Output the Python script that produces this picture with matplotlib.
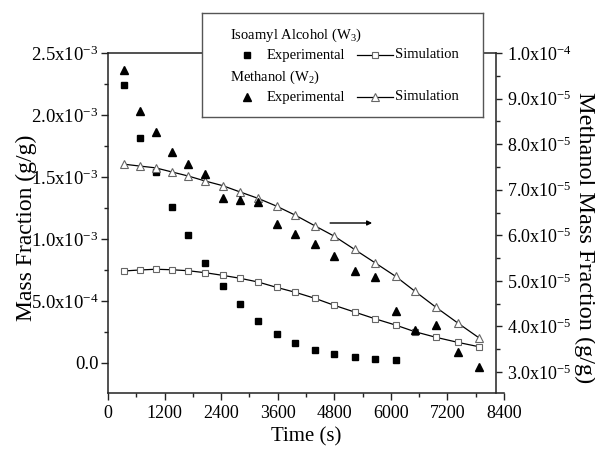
import matplotlib
matplotlib.use("Agg")
import matplotlib.pyplot as plt
from matplotlib.ticker import FixedLocator, FixedFormatter, MultipleLocator
from matplotlib.lines import Line2D

# ---------------- data ----------------
time_s = [340, 670, 1010, 1355, 1705, 2065, 2430, 2805, 3185, 3575,
          3975, 4385, 4800, 5230, 5660, 6100, 6513, 6958, 7414, 7870]

# Isoamyl alcohol (W3), left axis
iso_exp = [2.240e-3, 1.812e-3, 1.540e-3, 1.260e-3, 1.030e-3, 0.806e-3, 0.623e-3,
           0.473e-3, 0.339e-3, 0.236e-3, 0.159e-3, 0.107e-3, 0.073e-3, 0.048e-3,
           0.030e-3, 0.022e-3]
iso_sim = [0.742e-3, 0.750e-3, 0.756e-3, 0.752e-3, 0.744e-3, 0.728e-3, 0.707e-3,
           0.683e-3, 0.653e-3, 0.610e-3, 0.570e-3, 0.522e-3, 0.465e-3, 0.411e-3,
           0.357e-3, 0.306e-3, 0.252e-3, 0.207e-3, 0.167e-3, 0.131e-3]

# Methanol (W2), right axis
met_exp = [9.62e-5, 8.73e-5, 8.27e-5, 7.82e-5, 7.56e-5, 7.34e-5, 6.81e-5, 6.77e-5,
           6.73e-5, 6.25e-5, 6.03e-5, 5.81e-5, 5.55e-5, 5.21e-5, 5.08e-5, 4.34e-5,
           3.92e-5, 4.03e-5, 3.43e-5, 3.12e-5]
met_sim = [7.56e-5, 7.52e-5, 7.48e-5, 7.39e-5, 7.30e-5, 7.19e-5, 7.09e-5, 6.95e-5,
           6.81e-5, 6.64e-5, 6.44e-5, 6.21e-5, 5.98e-5, 5.69e-5, 5.40e-5, 5.10e-5,
           4.77e-5, 4.42e-5, 4.08e-5, 3.75e-5]

x_ticks = [0, 1200, 2400, 3600, 4800, 6000, 7200, 8400]
x_ticklabels = ["0", "1200", "2400", "3600", "4800", "6000", "7200", "8400"]
left_ticks = [0.0, 5.0e-4, 1.0e-3, 1.5e-3, 2.0e-3, 2.5e-3]
left_ticklabels = ["0.0", "5.0x10$^{-4}$", "1.0x10$^{-3}$", "1.5x10$^{-3}$",
                   "2.0x10$^{-3}$", "2.5x10$^{-3}$"]
right_ticks = [3.0e-5, 4.0e-5, 5.0e-5, 6.0e-5, 7.0e-5, 8.0e-5, 9.0e-5, 1.0e-4]
right_ticklabels = ["3.0x10$^{-5}$", "4.0x10$^{-5}$", "5.0x10$^{-5}$", "6.0x10$^{-5}$",
                    "7.0x10$^{-5}$", "8.0x10$^{-5}$", "9.0x10$^{-5}$", "1.0x10$^{-4}$"]

# ---------------- style ----------------
plt.rcParams["font.family"] = ["Liberation Serif", "DejaVu Serif"]
plt.rcParams["mathtext.fontset"] = "custom"
plt.rcParams["mathtext.rm"] = "Liberation Serif"
plt.rcParams["mathtext.it"] = "Liberation Serif:italic"
plt.rcParams["mathtext.bf"] = "Liberation Serif:bold"

W, H = 595, 458
fig = plt.figure(figsize=(W / 100, H / 100), dpi=100)

L, R, T, B = 108, 504, 53, 393
ax = fig.add_axes([L / W, 1 - B / H, (R - L) / W, (B - T) / H])
ax2 = ax.twinx()

spine_col = "#222222"
lw_sp = 1.1

# isoamyl alcohol
ax.plot(time_s, iso_sim, color="black", lw=0.9, marker="s", ms=4.3,
        mfc="white", mec="#666666", mew=0.8, zorder=3)
ax.plot(time_s[:len(iso_exp)], iso_exp, ls="none", marker="s", ms=4.4,
        color="black", zorder=4)
# methanol
ax2.plot(time_s, met_sim, color="black", lw=0.9, marker="^", ms=5.2,
         mfc="white", mec="#666666", mew=0.8, zorder=3)
ax2.plot(time_s, met_exp, ls="none", marker="^", ms=5.2, color="black", zorder=4)

ax.set_xlim(0, 8400)
ax.set_ylim(-2.42e-4, 2.5e-3)
ax2.set_ylim(2.54e-5, 1.0e-4)

right_pos = (496 - L) / (R - L)

ax.xaxis.set_major_locator(FixedLocator(x_ticks))
ax.xaxis.set_major_formatter(FixedFormatter(x_ticklabels))
ax.xaxis.set_minor_locator(MultipleLocator(600))
ax.yaxis.set_major_locator(FixedLocator(left_ticks))
ax.yaxis.set_major_formatter(FixedFormatter(left_ticklabels))
ax.yaxis.set_minor_locator(MultipleLocator(2.5e-4))
ax2.yaxis.set_major_locator(FixedLocator(right_ticks))
ax2.yaxis.set_major_formatter(FixedFormatter(right_ticklabels))
ax2.yaxis.set_minor_locator(MultipleLocator(0.5e-5))

for s in ["left", "bottom", "top"]:
    ax.spines[s].set_linewidth(lw_sp)
    ax.spines[s].set_color(spine_col)
ax.spines["right"].set_visible(False)
ax.spines["top"].set_bounds(0, 8400 * right_pos)
for s in ["left", "bottom", "top"]:
    ax2.spines[s].set_visible(False)
ax2.spines["right"].set_position(("axes", right_pos))
ax2.spines["right"].set_linewidth(lw_sp)
ax2.spines["right"].set_color(spine_col)

ax.tick_params(axis="x", which="major", direction="out", length=5, width=1,
               labelsize=13, pad=4, top=False, colors=spine_col, labelcolor="black")
ax.tick_params(axis="x", which="minor", direction="out", length=3, width=1,
               top=False, colors=spine_col)
ax.tick_params(axis="y", which="major", direction="out", length=5, width=1,
               labelsize=13.5, pad=2, right=False, colors=spine_col, labelcolor="black")
ax.tick_params(axis="y", which="minor", direction="out", length=3, width=1,
               right=False, colors=spine_col)
ax2.tick_params(axis="y", which="major", direction="out", length=4, width=1,
                labelsize=13, pad=4, colors=spine_col, labelcolor="black")
ax2.tick_params(axis="y", which="minor", direction="out", length=3, width=1,
                colors=spine_col)

# axis labels
fig.text(26 / W, 1 - 228 / H, "Mass Fraction (g/g)", rotation=90, fontsize=17,
         ha="center", va="center")
fig.text(585 / W, 1 - 238 / H, "Methanol Mass Fraction (g/g)", rotation=-90,
         fontsize=17.5, ha="center", va="center")
fig.text(306 / W, 1 - 437 / H, "Time (s)", fontsize=15, ha="center", va="center")

# arrow pointing to right axis
ax.annotate("", xy=(0.667, 0.5), xytext=(0.561, 0.5), xycoords="axes fraction",
            textcoords="axes fraction",
            arrowprops=dict(arrowstyle="-|>", lw=1.0, color="black",
                            mutation_scale=7, shrinkA=0, shrinkB=0))

# legend box (drawn manually)
lx0, ly0, lx1, ly1 = 202, 13, 483, 117
lg = fig.add_axes([lx0 / W, 1 - ly1 / H, (lx1 - lx0) / W, (ly1 - ly0) / H])
lg.set_xlim(0, lx1 - lx0)
lg.set_ylim(ly1 - ly0, 0)
lg.set_xticks([])
lg.set_yticks([])
for s in lg.spines.values():
    s.set_linewidth(1.0)
    s.set_color("#555555")
lg.set_zorder(10)
fs_leg = 10.5
lg.text(28, 22, "Isoamyl Alcohol (W$_3$)", fontsize=fs_leg, va="center", ha="left")
lg.text(28, 64, "Methanol (W$_2$)", fontsize=fs_leg, va="center", ha="left")
for yy, mk, msz in [(42, "s", 4.3), (84, "^", 5.2)]:
    lg.add_line(Line2D([45], [yy], ls="none", marker=mk, ms=msz, color="black"))
    lg.text(65, yy, "Experimental", fontsize=fs_leg, va="center", ha="left")
    lg.add_line(Line2D([155, 191], [yy, yy], color="black", lw=0.9))
    lg.add_line(Line2D([173], [yy], ls="none", marker=mk, ms=msz, mfc="white",
                       mec="#666666", mew=0.8))
    lg.text(193, yy, "Simulation", fontsize=fs_leg, va="center", ha="left")

fig.savefig("out.png", dpi=100)
